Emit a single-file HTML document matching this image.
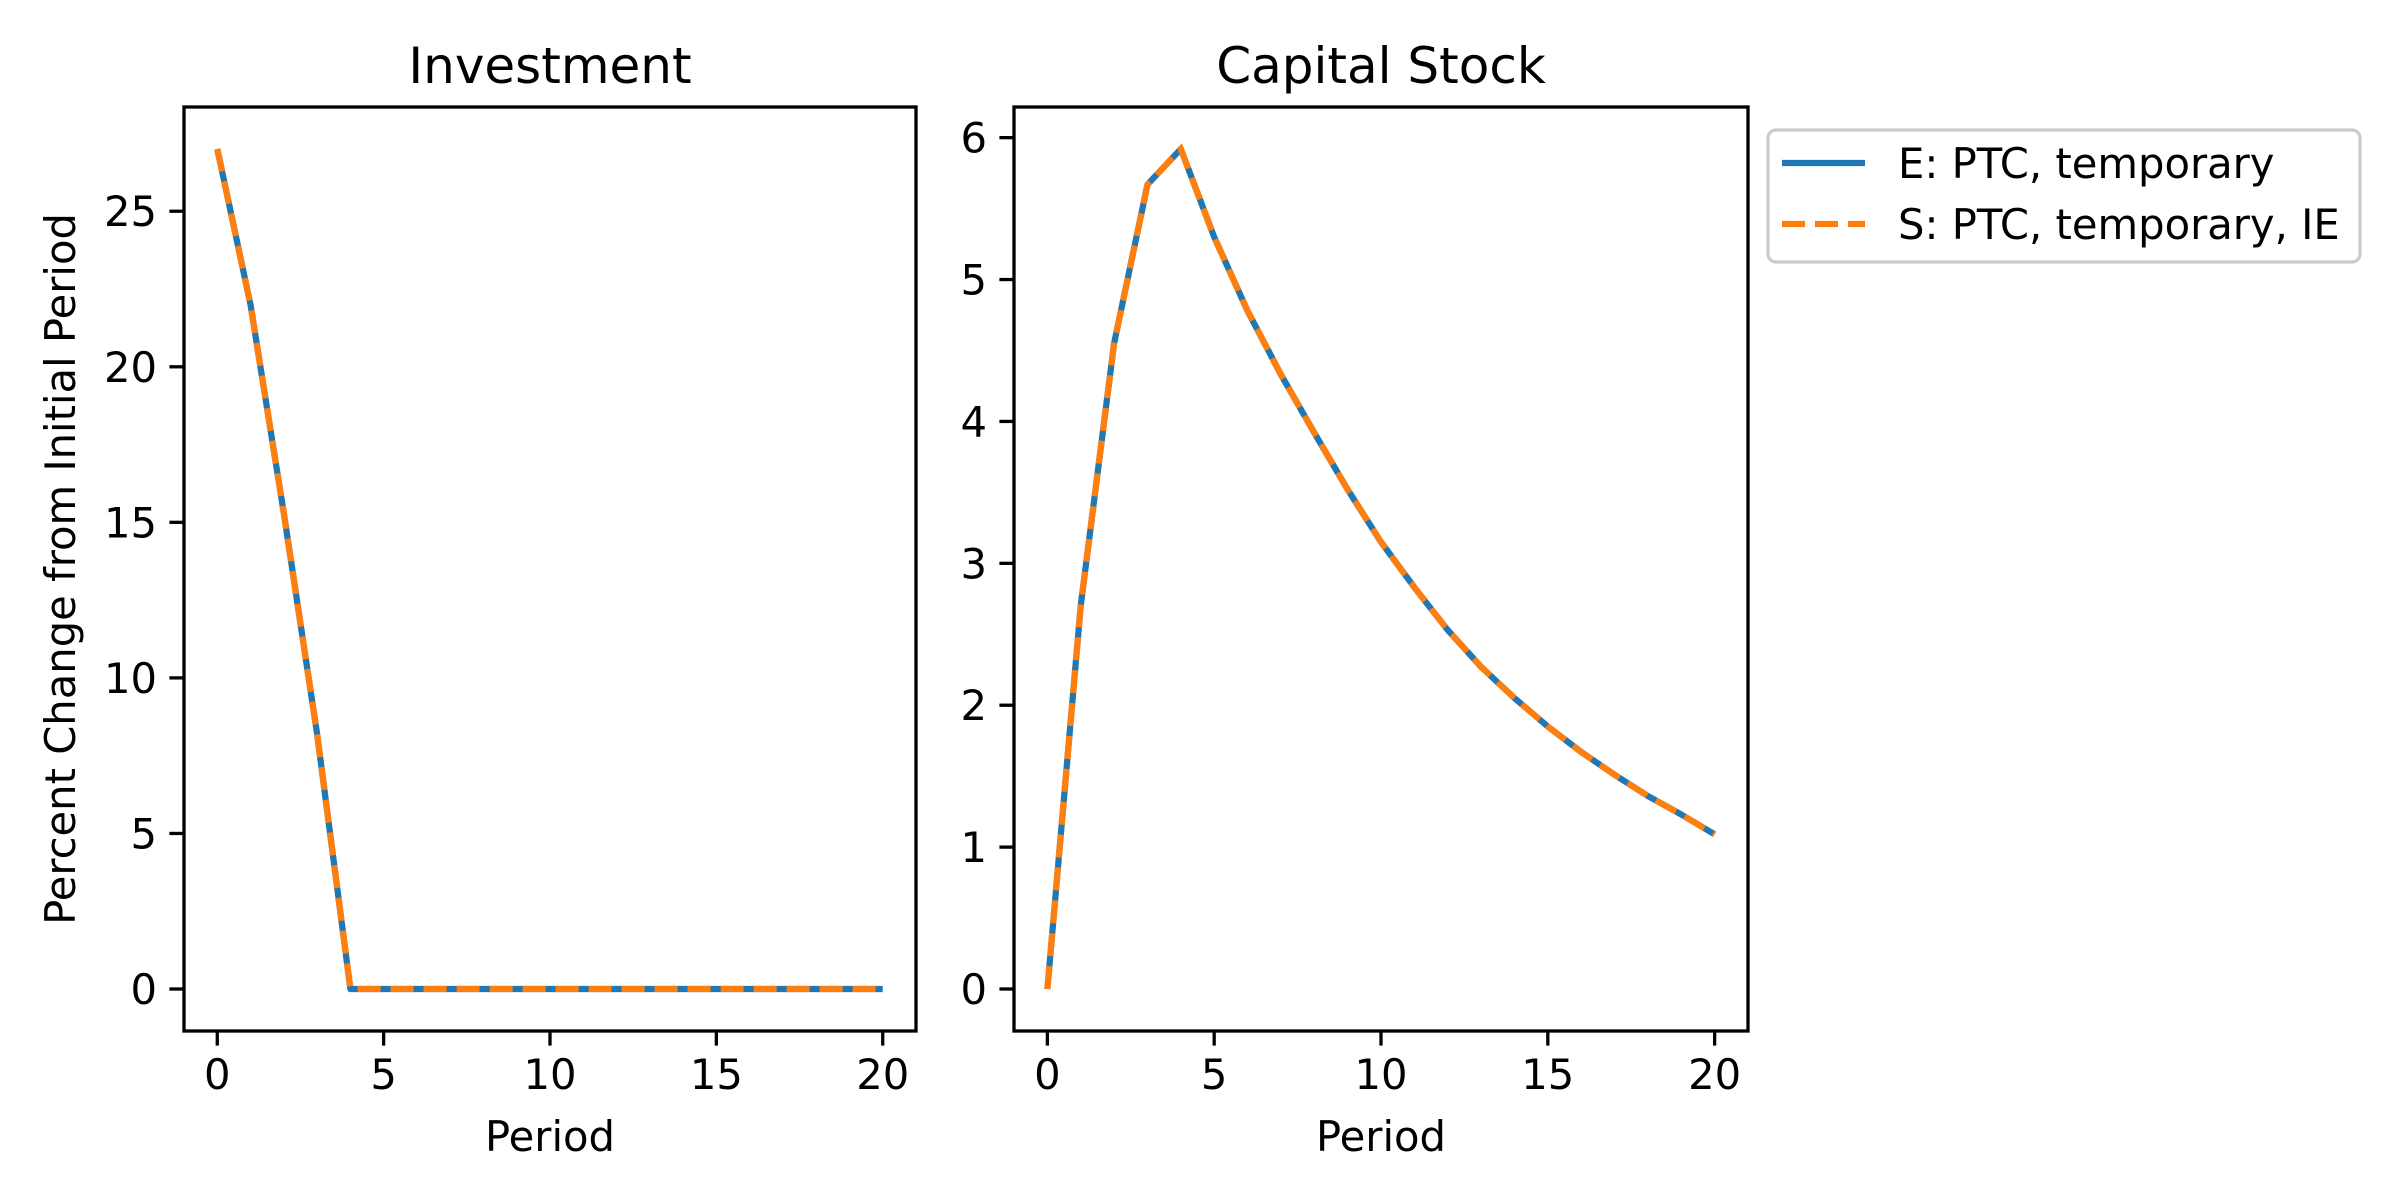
<!DOCTYPE html>
<html><head><meta charset="utf-8"><style>
body{margin:0;background:#fff}
svg{display:block;font-family:"DejaVu Sans","Liberation Sans",sans-serif}
</style></head><body>
<svg id="chart" width="2400" height="1200" viewBox="0 0 2400 1200">
<rect width="2400" height="1200" fill="#fff"/>
</svg>
<script>
const periods=[0,1,2,3,4,5,6,7,8,9,10,11,12,13,14,15,16,17,18,19,20];
const investment=[27,22,15.3,8.2,0,0,0,0,0,0,0,0,0,0,0,0,0,0,0,0,0];
const capital=[0,2.7,4.55,5.67,5.92,5.3,4.78,4.33,3.92,3.52,3.15,2.83,2.53,2.27,2.05,1.85,1.67,1.51,1.36,1.23,1.09];
const xTicks=[0,5,10,15,20];
const invTicks=[0,5,10,15,20,25];
const capTicks=[0,1,2,3,4,5,6];
const seriesNames=["E: PTC, temporary","S: PTC, temporary, IE"];
const svg=document.getElementById('chart');
const NS='http://www.w3.org/2000/svg';
function mk(tag,attrs,parent){const e=document.createElementNS(NS,tag);for(const k in attrs)e.setAttribute(k,attrs[k]);(parent||svg).appendChild(e);return e;}
function panel(name,L,R,T,B,xmin,xmax,ymin,ymax,yt,vals,title,ylab){
  const g=mk('g',{});
  
  
  const sx=v=>L+(v-xmin)/(xmax-xmin)*(R-L);
  const sy=v=>B-(v-ymin)/(ymax-ymin)*(B-T);
  // lines
  const pts=periods.map((p,i)=>sx(p).toFixed(1)+','+sy(vals[i]).toFixed(1)).join(' ');
  const l1=mk('polyline',{points:pts,fill:'none',stroke:'#1f77b4','stroke-width':6.25,'stroke-linejoin':'round'},g);
  
  
  const l2=mk('polyline',{points:pts,fill:'none',stroke:'#ff7f0e','stroke-width':6.25,'stroke-dasharray':'23 10'},g);
  
  
  const fr=mk('rect',{x:L,y:T,width:R-L,height:B-T,fill:'none',stroke:'#000','stroke-width':3.3},g);
  
  
  xTicks.forEach(v=>{
    mk('line',{x1:sx(v),x2:sx(v),y1:B,y2:B+14.6,stroke:'#000','stroke-width':3.3},g);
    const t=mk('text',{x:sx(v),y:B+58,'text-anchor':'middle','font-size':41.7},g);
    t.textContent=v;
    
    
  });
  yt.forEach(v=>{
    mk('line',{x1:L-14.6,x2:L,y1:sy(v),y2:sy(v),stroke:'#000','stroke-width':3.3},g);
    const t=mk('text',{x:L-27,y:sy(v)+15,'text-anchor':'end','font-size':41.7},g);
    t.textContent=v;
    
    
  });
  const ti=mk('text',{x:(L+R)/2,y:T-24,'text-anchor':'middle','font-size':50},g);
  ti.textContent=title;
  
  
  const xl=mk('text',{x:(L+R)/2,y:B+120,'text-anchor':'middle','font-size':41.7},g);
  xl.textContent='Period';
  
  
  if(ylab){
    const yl=mk('text',{x:0,y:0,'text-anchor':'middle','font-size':41.7,transform:`translate(75,${(T+B)/2}) rotate(-90)`},g);
    yl.textContent=ylab;
    
    
  }
}
panel('investment',184,916,107,1031,-1,21,-1.35,28.35,invTicks,investment,'Investment','Percent Change from Initial Period');
panel('capital-stock',1014,1748,107,1031,-1,21,-0.296,6.216,capTicks,capital,'Capital Stock',null);
// legend
const lg=mk('g',{});


mk('rect',{x:1768,y:130,width:592,height:132,rx:8,fill:'#fff',stroke:'#ccc','stroke-width':3.3},lg);
const colors=['#1f77b4','#ff7f0e'];
seriesNames.forEach((n,i)=>{
  const y=163+i*61;
  const ln=mk('line',{x1:1782,x2:1865,y1:y,y2:y,stroke:colors[i],'stroke-width':6.25,'stroke-dasharray':i?'23 10':'none'},lg);
  
  
  const t=mk('text',{x:1898,y:y+15,'font-size':41.7},lg);
  t.textContent=n;
  
  
});
</script>
</body></html>
